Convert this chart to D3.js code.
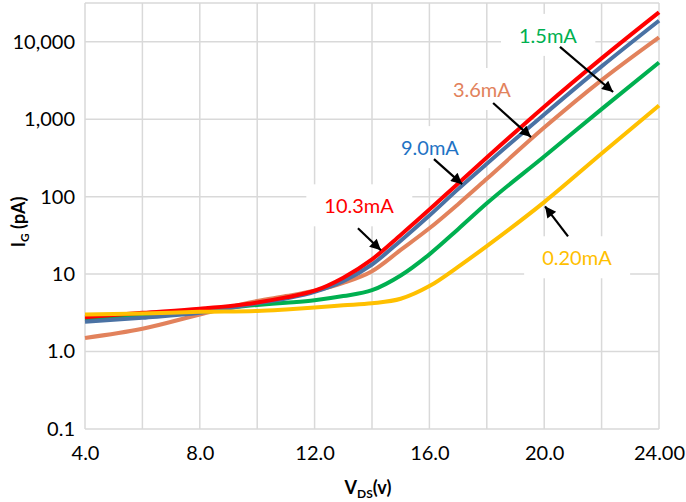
<!DOCTYPE html>
<html>
<head>
<meta charset="utf-8">
<script src="https://cdn.jsdelivr.net/npm/d3@7"></script>
<style>
  body { margin: 0; background: #fff; }
  svg { display: block; font-family: Lato, "Open Sans", sans-serif; }
</style>
</head>
<body>
<svg id="chart" width="686" height="502"></svg>
<script>
// V_DS sample points (volts)
var vds = [4, 6, 8, 10, 11, 12, 13, 14, 15, 16, 17, 18, 20, 22, 24];

// gate current in pA
var ig103 = [2.78, 3.16, 3.57, 4.3, 5.0, 6.1, 9.0, 15.5, 32, 68, 148, 320, 1450, 6100, 24000];
var ig90  = [2.42, 2.73, 3.16, 4.2, 4.85, 5.9, 8.1, 13.3, 27, 57, 125, 265, 1150, 4800, 18700];
var ig36  = [1.50, 1.97, 3.01, 4.5, 5.2, 6.1, 7.7, 10.9, 20.5, 39, 80, 170, 780, 3200, 11400];
var ig15  = [2.59, 2.95, 3.39, 4.0, 4.27, 4.6, 5.2, 6.2, 9.6, 18, 38, 82, 330, 1350, 5400];
var ig020 = [3.01, 3.10, 3.26, 3.35, 3.5, 3.7, 3.95, 4.2, 4.8, 7.0, 12.4, 23, 85, 360, 1500];

// drawing order, back to front
var seriesNames  = ["3.6mA", "1.5mA", "9.0mA", "10.3mA", "0.20mA"];
var seriesValues = [ig36, ig15, ig90, ig103, ig020];
var seriesColors = ["#E2825C", "#00B050", "#4A72A4", "#FF0000", "#FFC000"];

var xTicks = [4, 8, 12, 16, 20, 24];
var xTickLabels = ["4.0", "8.0", "12.0", "16.0", "20.0", "24.00"];
var xGrid = [4, 6, 8, 10, 12, 14, 16, 18, 20, 22, 24];
var yTicks = [0.1, 1, 10, 100, 1000, 10000];
var yTickLabels = ["0.1", "1.0", "10", "100", "1,000", "10,000"];

// callouts: label position and arrow tail -> tip, all in data units
var noteNames  = ["1.5mA", "3.6mA", "9.0mA", "10.3mA", "0.20mA"];
var noteColors = ["#00B050", "#E2825C", "#1F73C4", "#FF0000", "#FFC000"];
var noteLabel  = [[20.13, 11900], [17.83, 2380], [16.02, 423], [13.55, 75], [21.14, 16]];
var noteTail   = [[20.55, 8570], [18.22, 1616], [16.16, 305], [13.51, 39], [20.83, 30.7]];
var noteTip    = [[22.4, 2244], [19.54, 587], [17.14, 145], [14.31, 20.3], [20.03, 75]];

var svg = d3.select("#chart");
var margin = {left: 85, top: 3, right: 27, bottom: 73};
var width = 686 - margin.left - margin.right,
    height = 502 - margin.top - margin.bottom;

var x = d3.scaleLinear().domain([4, 24]).range([0, width]);
var y = d3.scaleLog().domain([0.1, Math.pow(10, 4.5)]).range([height, 0]);

svg.append("defs").append("marker")
    .attr("id", "arrowhead")
    .attr("viewBox", "0 -5 10 10")
    .attr("refX", 10)
    .attr("refY", 0)
    .attr("markerWidth", 6)
    .attr("markerHeight", 5)
    .attr("markerUnits", "strokeWidth")
    .attr("orient", "auto")
  .append("path")
    .attr("d", "M0,-5L10,0L0,5Z")
    .attr("fill", "#000");

var g = svg.append("g").attr("transform", "translate(" + margin.left + "," + margin.top + ")");

// grid
var grid = g.append("g").attr("stroke", "#D9D9D9").attr("stroke-width", 1.5);
grid.selectAll(".vg").data(xGrid).enter().append("line")
    .attr("x1", function(d) { return x(d); }).attr("x2", function(d) { return x(d); })
    .attr("y1", 0).attr("y2", height);
grid.selectAll(".hg").data(yTicks.concat([y.domain()[1]])).enter().append("line")
    .attr("y1", function(d) { return y(d); }).attr("y2", function(d) { return y(d); })
    .attr("x1", 0).attr("x2", width);

// axes
var xAxis = g.append("g")
    .attr("transform", "translate(0," + height + ")")
    .call(d3.axisBottom(x).tickValues(xTicks).tickSize(0).tickPadding(10)
          .tickFormat(function(d, i) { return xTickLabels[i]; }));
var yAxis = g.append("g")
    .call(d3.axisLeft(y).tickValues(yTicks).tickSize(0).tickPadding(10)
          .tickFormat(function(d, i) { return yTickLabels[i]; }));
[xAxis, yAxis].forEach(function(a) {
  a.select(".domain").remove();
  a.selectAll("text").attr("font-family", "Lato, sans-serif").attr("font-size", 20).attr("fill", "#000");
});
xAxis.selectAll("text").attr("dy", "1.05em");

// white boxes behind callout labels (hide the grid, not the curves)
var boxes = g.append("g");

// curves
var line = d3.line()
    .x(function(d) { return x(d[0]); })
    .y(function(d) { return y(d[1]); })
    .curve(d3.curveMonotoneX);

g.append("g").selectAll("path").data(seriesValues).enter().append("path")
    .attr("d", function(vals) { return line(vds.map(function(v, i) { return [v, vals[i]]; })); })
    .attr("fill", "none")
    .attr("stroke", function(d, i) { return seriesColors[i]; })
    .attr("stroke-width", 4)
    .attr("stroke-linejoin", "round");

var noteText = g.append("g").selectAll("text").data(noteNames).enter().append("text")
    .attr("x", function(d, i) { return x(noteLabel[i][0]); })
    .attr("y", function(d, i) { return y(noteLabel[i][1]); })
    .attr("dy", "0.35em")
    .attr("text-anchor", "middle")
    .attr("font-size", 20)
    .attr("fill", function(d, i) { return noteColors[i]; })
    .text(function(d) { return d; });
noteText.each(function() {
  var b = this.getBBox();
  boxes.append("rect")
      .attr("x", b.x - 18).attr("y", b.y - 9)
      .attr("width", b.width + 36).attr("height", b.height + 18)
      .attr("fill", "#fff");
});

// arrows
g.append("g").selectAll("line").data(noteNames).enter().append("line")
    .attr("x1", function(d, i) { return x(noteTail[i][0]); })
    .attr("y1", function(d, i) { return y(noteTail[i][1]); })
    .attr("x2", function(d, i) { return x(noteTip[i][0]); })
    .attr("y2", function(d, i) { return y(noteTip[i][1]); })
    .attr("stroke", "#000")
    .attr("stroke-width", 2.2)
    .attr("marker-end", "url(#arrowhead)");

// axis titles
var xt = svg.append("text")
    .attr("x", margin.left + width / 2 - 4).attr("y", 494)
    .attr("text-anchor", "middle")
    .attr("font-size", 18).attr("font-weight", "bold");
xt.append("tspan").text("V");
xt.append("tspan").attr("font-size", 12).attr("dy", 4).text("DS");
xt.append("tspan").attr("dy", -4).text("(v)");

var yt = svg.append("text")
    .attr("transform", "translate(25,222) rotate(-90)")
    .attr("text-anchor", "middle")
    .attr("font-size", 18).attr("font-weight", "bold");
yt.append("tspan").text("I");
yt.append("tspan").attr("font-size", 12).attr("dy", 4).text("G");
yt.append("tspan").attr("dy", -4).text(" (pA)");
</script>
</body>
</html>
